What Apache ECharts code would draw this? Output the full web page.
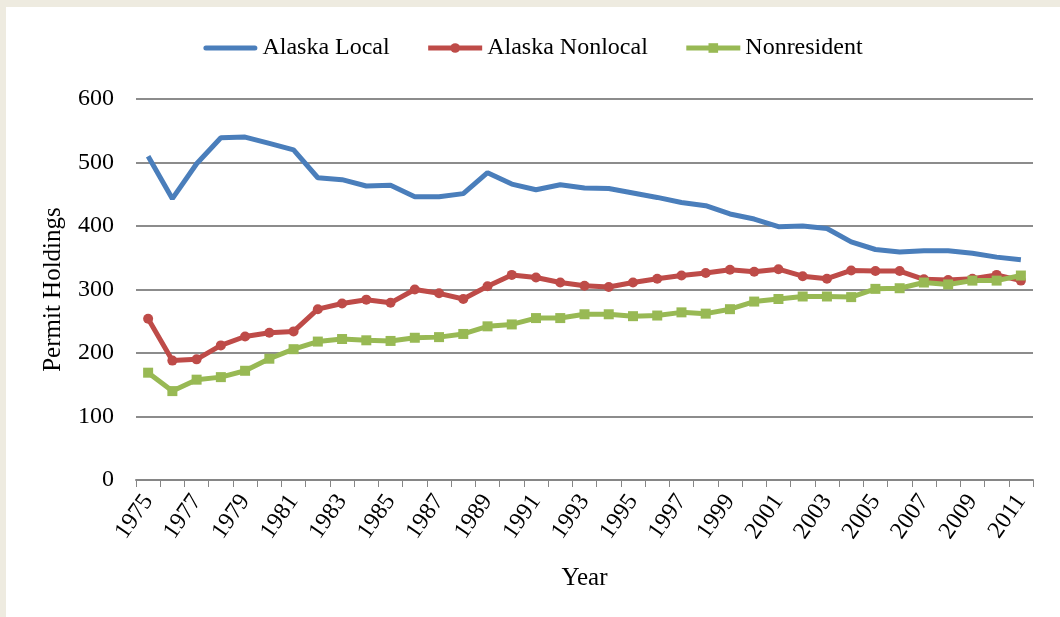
<!DOCTYPE html>
<html>
<head>
<meta charset="utf-8">
<script src="https://cdn.jsdelivr.net/npm/echarts@6/dist/echarts.min.js"></script>
<style>
    html, body { margin: 0; padding: 0; background: #eeebe0; }
    #chart { position: absolute; left: 6px; top: 7px; width: 1054px; height: 610px; background: #ffffff; }
</style>
</head>
<body>
<div id="chart"></div>
<script>
// years 1975 - 2011
var years = [];
for (var y = 1975; y <= 2011; y++) { years.push(String(y)); }

var alaskaLocal = [510, 443, 498, 539, 540, 530, 520, 476, 473, 463, 464, 446, 446, 451, 484,
    466, 457, 465, 460, 459, 452, 445, 437, 432, 419, 411, 399, 400, 396, 375, 363, 359, 361,
    361, 357, 351, 347];
var alaskaNonlocal = [254, 188, 190, 212, 226, 232, 234, 269, 278, 284, 279, 300, 294, 285, 305,
    323, 319, 311, 306, 304, 311, 317, 322, 326, 331, 328, 332, 321, 317, 330, 329, 329, 316,
    315, 317, 323, 314];
var nonresident = [169, 140, 158, 162, 172, 191, 206, 218, 222, 220, 219, 224, 225, 230, 242,
    245, 255, 255, 261, 261, 258, 259, 264, 262, 269, 281, 285, 289, 289, 288, 301, 302, 311,
    308, 314, 314, 322];

var chart = echarts.init(document.getElementById('chart'));
var font = '"Liberation Serif", "DejaVu Serif", serif';

// plain thick line for the series without markers
var lineIcon = 'path://M2.5,0 L51.5,0 A2.5,2.5 0 0 1 51.5,5 L2.5,5 A2.5,2.5 0 0 1 2.5,0 Z';

var option = {
    animation: false,
    textStyle: { fontFamily: font, color: '#000' },
    legend: {
        top: 24,
        left: 'center',
        itemWidth: 54,
        itemHeight: 12,
        itemGap: 36,
        lineStyle: { width: 5 },
        textStyle: { fontFamily: font, fontSize: 24, color: '#000' },
        data: [
            { name: 'Alaska Local', icon: lineIcon },
            'Alaska Nonlocal',
            'Nonresident'
        ]
    },
    grid: { left: 130, right: 27, top: 92, bottom: 137 },
    xAxis: {
        type: 'category',
        data: years,
        boundaryGap: true,
        name: 'Year',
        nameLocation: 'middle',
        nameGap: 86,
        nameTextStyle: { fontFamily: font, fontSize: 25, color: '#000' },
        axisLine: { lineStyle: { color: '#868686', width: 2 } },
        axisTick: { show: true, interval: 0, length: 7, lineStyle: { color: '#868686', width: 1 } },
        axisLabel: { interval: 1, rotate: 55, margin: 17, fontFamily: font, fontSize: 24, color: '#000' }
    },
    yAxis: {
        type: 'value',
        min: 0,
        max: 600,
        interval: 100,
        name: 'Permit Holdings',
        nameLocation: 'middle',
        nameGap: 70,
        nameTextStyle: { fontFamily: font, fontSize: 25, color: '#000' },
        axisLine: { show: false },
        axisTick: { show: false },
        axisLabel: { margin: 22, fontFamily: font, fontSize: 24, color: '#000' },
        splitLine: { lineStyle: { color: '#8c8c8c', width: 2 } }
    },
    series: [
        {
            name: 'Alaska Local',
            type: 'line',
            data: alaskaLocal,
            symbol: 'none',
            lineStyle: { color: '#4a7ebb', width: 5 },
            itemStyle: { color: '#4a7ebb' }
        },
        {
            name: 'Alaska Nonlocal',
            type: 'line',
            data: alaskaNonlocal,
            symbol: 'circle',
            symbolSize: 10,
            lineStyle: { color: '#be4b48', width: 5 },
            itemStyle: { color: '#be4b48' }
        },
        {
            name: 'Nonresident',
            type: 'line',
            data: nonresident,
            symbol: 'rect',
            symbolSize: 10,
            lineStyle: { color: '#98b954', width: 5 },
            itemStyle: { color: '#98b954' }
        }
    ]
};

chart.setOption(option);
</script>
</body>
</html>
